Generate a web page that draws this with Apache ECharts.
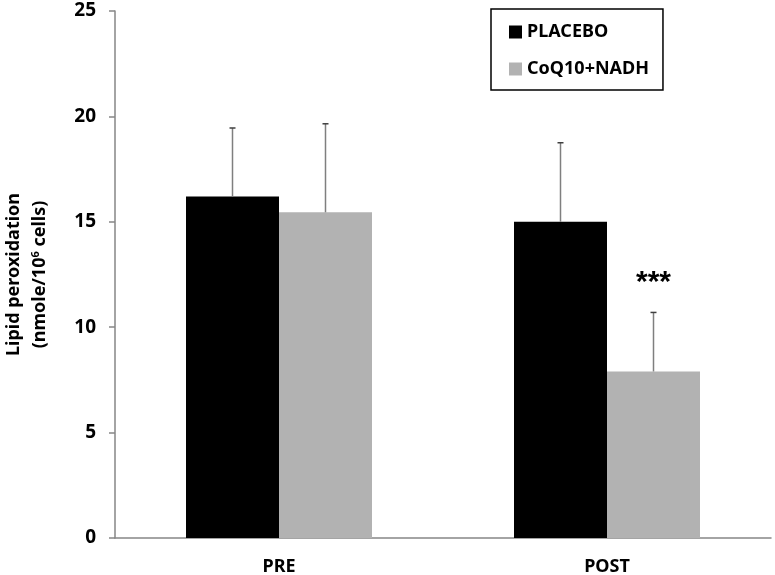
<!DOCTYPE html>
<html>
<head>
<meta charset="utf-8">
<script src="https://cdn.jsdelivr.net/npm/echarts@6/dist/echarts.min.js"></script>
<style>html,body{margin:0;padding:0;background:#fff}#c{width:775px;height:575px}</style>
</head>
<body>
<div id="c"></div>
<script>
var categories = ['PRE', 'POST'];
var seriesNames = ['PLACEBO', 'CoQ10+NADH'];
var placeboValues = [16.2, 15.0];
var placeboErrors = [3.25, 3.75];
var coqValues = [15.45, 7.9];
var coqErrors = [4.2, 2.8];
var coqSignificance = ['', '***'];
var yTicks = [0, 5, 10, 15, 20, 25];

var FONT = '"Noto Sans"';
var BAR_W = 93;
var chart = echarts.init(document.getElementById('c'), null, {renderer: 'canvas'});

function errorSeries(values, errors, offset, marks) {
  var data = values.map(function (v, i) { return [i, v, v + errors[i], marks ? marks[i] : '']; });
  return {
    type: 'custom',
    silent: true,
    z: 5,
    data: data,
    encode: {x: 0, y: [1, 2]},
    renderItem: function (params, api) {
      var base = api.coord([api.value(0), api.value(1)]);
      var top = api.coord([api.value(0), api.value(2)]);
      var x = base[0] + offset;
      var children = [
        {type: 'line', shape: {x1: x, y1: base[1], x2: x, y2: top[1]}, style: {stroke: '#7f7f7f', lineWidth: 1.5}},
        {type: 'line', shape: {x1: x - 3, y1: top[1], x2: x + 3, y2: top[1]}, style: {stroke: '#3f3f3f', lineWidth: 1.5}}
      ];
      var mark = api.value(3);
      if (mark) {
        children.push({type: 'text', style: {text: mark, x: x, y: top[1] - 30, align: 'center', verticalAlign: 'middle', font: 'bold 30px "Liberation Sans"', fill: '#000'}});
      }
      return {type: 'group', children: children};
    }
  };
}

chart.setOption({
  animation: false,
  backgroundColor: '#fff',
  textStyle: {fontFamily: FONT},
  grid: {left: 115, right: 4, top: 11, bottom: 37, containLabel: false, outerBoundsMode: 'none'},
  legend: {
    data: seriesNames,
    orient: 'vertical',
    left: 491,
    top: 9,
    borderColor: '#000',
    borderWidth: 1.5,
    borderRadius: 0,
    padding: [14, 14, 12, 18],
    itemGap: 19,
    itemWidth: 13,
    itemHeight: 13,
    icon: 'rect',
    textStyle: {fontFamily: FONT, fontWeight: 'bold', fontSize: 18, color: '#000'}
  },
  xAxis: {
    type: 'category',
    data: categories,
    axisLine: {lineStyle: {color: '#868686', width: 1.5}},
    axisTick: {show: false},
    axisLabel: {margin: 20, fontFamily: FONT, fontWeight: 'bold', fontSize: 18, color: '#000'}
  },
  yAxis: {
    type: 'value',
    min: yTicks[0],
    max: yTicks[yTicks.length - 1],
    interval: yTicks[1] - yTicks[0],
    splitLine: {show: false},
    axisLine: {show: true, lineStyle: {color: '#868686', width: 1.5}},
    axisTick: {show: true, length: 6, lineStyle: {color: '#868686', width: 1.5}},
    axisLabel: {margin: 19, fontFamily: FONT, fontWeight: 'bold', fontSize: 19, color: '#000'},
    name: '{t|Lipid peroxidation}\n{t|(nmole/10}{s|6}{t| cells)}',
    nameLocation: 'middle',
    nameGap: 62,
    nameRotate: 90,
    nameTextStyle: {
      fontFamily: FONT, fontWeight: 'bold', fontSize: 18, color: '#000', lineHeight: 26,
      rich: {
        t: {fontFamily: FONT, fontWeight: 'bold', fontSize: 18, color: '#000', lineHeight: 26},
        s: {fontFamily: FONT, fontWeight: 'bold', fontSize: 11, color: '#000', lineHeight: 26, padding: [0, 0, 9, 0]}
      }
    }
  },
  series: [
    {name: seriesNames[0], type: 'bar', data: placeboValues, barWidth: BAR_W, barGap: '0%', itemStyle: {color: '#000000'}},
    {name: seriesNames[1], type: 'bar', data: coqValues, barWidth: BAR_W, barGap: '0%', itemStyle: {color: '#b2b2b2'}},
    errorSeries(placeboValues, placeboErrors, -BAR_W / 2, null),
    errorSeries(coqValues, coqErrors, BAR_W / 2, coqSignificance)
  ]
});
</script>
</body>
</html>
